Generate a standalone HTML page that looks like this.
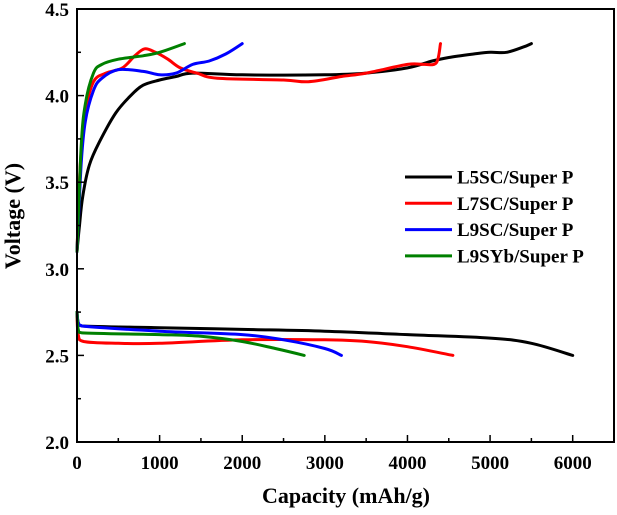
<!DOCTYPE html>
<html><head><meta charset="utf-8"><style>
body{margin:0;background:#fff;}
svg text{font-family:"Liberation Serif",serif;font-weight:bold;fill:#000;}
</style></head><body>
<svg id="chart" width="617" height="510" viewBox="0 0 617 510" xmlns="http://www.w3.org/2000/svg">
<g id="plot"></g>
<g id="axes"></g>
<g id="legend"></g>
</svg>
<script>
const xTicks=[0,1000,2000,3000,4000,5000,6000];
const yTicks=[2.0,2.5,3.0,3.5,4.0,4.5];
const yTickLabels=["2.0","2.5","3.0","3.5","4.0","4.5"];
const seriesNames=["L5SC/Super P","L7SC/Super P","L9SC/Super P","L9SYb/Super P"];
const seriesColors=["#000000","#ff0000","#0000ff","#008000"];
const chargeL5=[[0,3.1],[30,3.25],[70,3.42],[150,3.6],[280,3.74],[470,3.9],[650,4.0],[800,4.06],[1000,4.09],[1200,4.11],[1400,4.13],[2000,4.12],[3000,4.12],[3500,4.13],[4000,4.16],[4300,4.2],[4500,4.22],[4800,4.24],[5000,4.25],[5200,4.25],[5400,4.28],[5500,4.3]];
const chargeL7=[[0,3.1],[40,3.6],[100,3.9],[200,4.08],[350,4.13],[550,4.16],[700,4.23],[820,4.27],[950,4.25],[1100,4.21],[1250,4.16],[1450,4.13],[1700,4.1],[2500,4.09],[2800,4.08],[3200,4.11],[3500,4.13],[4000,4.18],[4200,4.18],[4350,4.19],[4400,4.3]];
const chargeL9=[[0,3.1],[50,3.6],[100,3.85],[200,4.03],[300,4.1],[500,4.15],[800,4.14],[1000,4.12],[1200,4.13],[1400,4.18],[1600,4.2],[1800,4.24],[2000,4.3]];
const chargeYb=[[0,3.1],[50,3.7],[100,3.95],[200,4.13],[300,4.18],[500,4.21],[800,4.23],[1000,4.25],[1300,4.3]];
const dischL5=[[0,2.75],[15,2.69],[60,2.67],[1000,2.66],[2000,2.65],[3000,2.64],[4000,2.62],[5000,2.6],[5500,2.57],[6000,2.5]];
const dischL7=[[0,2.75],[15,2.62],[80,2.58],[500,2.57],[1000,2.57],[2000,2.59],[3000,2.59],[3500,2.58],[4000,2.55],[4550,2.5]];
const dischL9=[[0,2.75],[15,2.69],[60,2.67],[1000,2.64],[2000,2.62],[2500,2.59],[3000,2.54],[3200,2.5]];
const dischYb=[[0,2.75],[15,2.65],[60,2.63],[1000,2.62],[1500,2.61],[2000,2.58],[2400,2.54],[2750,2.5]];

const L=77,R=614,T=9,B=442,xMax=6500,yMin=2.0,yMax=4.5;
const sx=v=>L+v/xMax*(R-L);
const sy=v=>B-(v-yMin)/(yMax-yMin)*(B-T);
const NS="http://www.w3.org/2000/svg";
function mk(tag,attrs,parent){const e=document.createElementNS(NS,tag);for(const k in attrs)e.setAttribute(k,attrs[k]);parent.appendChild(e);return e;}
function smooth(d){const p=d.map(q=>[sx(q[0]),sy(q[1])]);let s='M'+p[0][0].toFixed(1)+','+p[0][1].toFixed(1);
 for(let i=0;i<p.length-1;i++){const p0=p[i-1]||p[i],p1=p[i],p2=p[i+1],p3=p[i+2]||p2;
  const lo=Math.min(p1[0],p2[0]),hi=Math.max(p1[0],p2[0]);
  const cl=v=>Math.max(lo,Math.min(hi,v));
  const c1=[cl(p1[0]+(p2[0]-p0[0])/6),p1[1]+(p2[1]-p0[1])/6],c2=[cl(p2[0]-(p3[0]-p1[0])/6),p2[1]-(p3[1]-p1[1])/6];
  s+='C'+c1.map(v=>v.toFixed(1)).join(',')+' '+c2.map(v=>v.toFixed(1)).join(',')+' '+p2[0].toFixed(1)+','+p2[1].toFixed(1);}
 return s;}
const plot=document.getElementById('plot'),axes=document.getElementById('axes'),leg=document.getElementById('legend');
const all=[[chargeL5,dischL5],[chargeL7,dischL7],[chargeL9,dischL9],[chargeYb,dischYb]];
const keys=["l5sc","l7sc","l9sc","l9syb"];
all.forEach((pair,i)=>{pair.forEach((d,j)=>{
 const p=mk('path',{d:smooth(d),fill:'none',stroke:seriesColors[i],'stroke-width':3,'stroke-linejoin':'round','stroke-linecap':'round'},plot);
 
 
});});
const fr=mk('rect',{x:L,y:T,width:R-L,height:B-T,fill:'none',stroke:'#000','stroke-width':2},axes);


for(let v=0;v<=xMax;v+=500){const big=v%1000===0;const t=mk('line',{x1:sx(v),x2:sx(v),y1:B,y2:B-(big?7:4),stroke:'#000','stroke-width':1.5},axes);
 
 }
for(let v=2.0;v<=4.5001;v+=0.25){const big=Math.abs(v*2-Math.round(v*2))<1e-6;const t=mk('line',{x1:L,x2:L+(big?7:4),y1:sy(v),y2:sy(v),stroke:'#000','stroke-width':1.5},axes);
 
 }
xTicks.forEach(v=>{const t=mk('text',{x:sx(v),y:469,'text-anchor':'middle','font-size':19},axes);t.textContent=String(v);
 
 });
yTicks.forEach((v,i)=>{const t=mk('text',{x:69,y:sy(v)+7,'text-anchor':'end','font-size':19},axes);t.textContent=yTickLabels[i];
 
 });
const xt=mk('text',{x:346,y:503,'text-anchor':'middle','font-size':22},axes);xt.textContent='Capacity (mAh/g)';


const yt=mk('text',{x:0,y:0,'text-anchor':'middle','font-size':22,transform:'translate(20,216) rotate(-90)'},axes);yt.textContent='Voltage (V)';


seriesNames.forEach((n,i)=>{const y=177+i*26.3;
 const g=mk('g',{},leg);
 
 
 mk('line',{x1:405,x2:452,y1:y,y2:y,stroke:seriesColors[i],'stroke-width':3},g);
 const t=mk('text',{x:457,y:y+6.5,'font-size':19},g);t.textContent=n;});
</script>
</body></html>
